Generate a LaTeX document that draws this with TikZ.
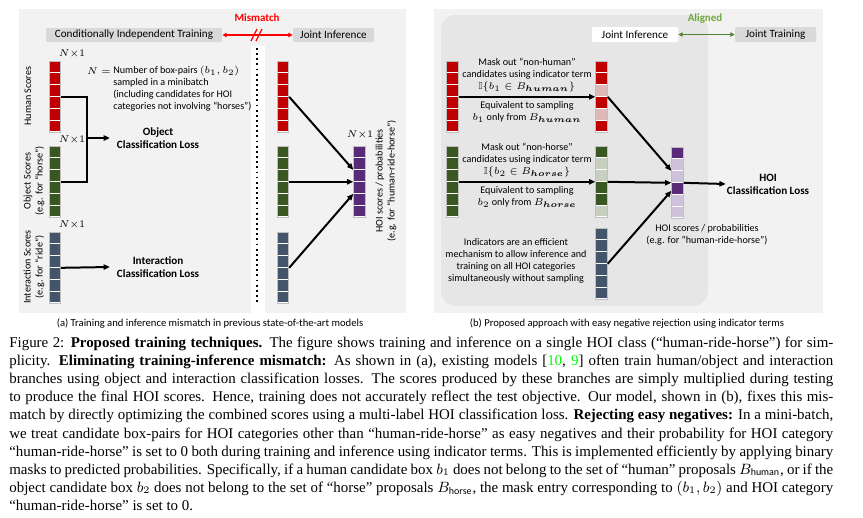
\documentclass[tikz,border=0pt]{standalone}
\usepackage{amsmath,amssymb}
\usepackage{fontspec}
\setmainfont{Carlito}
\newfontfamily\capfont{Liberation Serif}
\usetikzlibrary{arrows.meta,calc}
\newdimen\pxu \pxu=0.6024pt
\definecolor{cR}{HTML}{C00000}
\definecolor{cRl}{HTML}{DDB9BA}
\definecolor{cG}{HTML}{385723}
\definecolor{cGl}{HTML}{C6CFC0}
\definecolor{cB}{HTML}{44546A}
\definecolor{cP}{HTML}{582A78}
\definecolor{cPl}{HTML}{CDC2DA}
\definecolor{bgL}{HTML}{F2F2F2}
\definecolor{bgIn}{HTML}{E6E6E6}
\definecolor{hdrgray}{HTML}{D9D9D9}
\definecolor{mred}{HTML}{FF0000}
\definecolor{agreen}{HTML}{6EA83A}
\definecolor{aline}{HTML}{548235}
\definecolor{frame}{HTML}{BFBFBF}
\newcommand\scol[4]{%
  \foreach \cc [count=\k from 0] in {#4} {
    \filldraw[fill=\cc, draw=white, line width=0.4pt] ({#2-5.75},{#3+\k*11.8}) rectangle ({#2+5.75},{#3+\k*11.8+11.8});
  }
  \node[colframe, anchor=north] (#1) at (#2,#3) {};
}
\begin{document}
\begin{tikzpicture}[x=0.6024pt,y=-0.6024pt,
  colframe/.style={draw=frame, line width=0.5pt, minimum width=11.5\pxu, minimum height=70.8\pxu, inner sep=0pt},
  small/.style={font=\fontsize{6.1}{7.23}\selectfont, inner sep=0pt, align=center},
  hdr/.style={fill=hdrgray, rounded corners=0.8pt, minimum height=14\pxu, inner sep=0pt, font=\fontsize{6.7}{7.8}\selectfont},
  loss/.style={font=\bfseries\fontsize{6.7}{7.8}\selectfont, align=center, inner sep=0pt},
  subcap/.style={font=\fontsize{6.4}{7.5}\selectfont, inner sep=0pt},
  nx/.style={font=\fontsize{6.2}{7}\selectfont, inner sep=0pt},
  conn/.style={line width=1.2pt, -{Triangle[length=3.8pt,width=3.2pt]}},
  conn0/.style={line width=1.2pt},
  capline/.style={font=\capfont\fontsize{9}{10.9}\selectfont, inner sep=0pt, anchor=base west}]
\useasboundingbox (0,0) rectangle (863,517);
% ---------------- backgrounds
\fill[bgL] (19,9) rectangle (406,313);
\fill[white] (251,46) rectangle (265,313);
\fill[bgL] (434,9) rectangle (823,313);
\fill[bgIn, rounded corners=9pt] (441,15) rectangle (708,306);
% ---------------- panel (a) headers
\node[hdr, minimum width=176\pxu] (h1) at (134,35) {Conditionally Independent Training};
\node[hdr, minimum width=81\pxu] (h2) at (333.5,35) {Joint Inference};
\node[font=\bfseries\fontsize{6.6}{7.8}\selectfont, text=mred, inner sep=0pt] (mm) at (257,18) {Mismatch};
\draw[mred, line width=0.7pt, {Triangle[length=2.6pt,width=2.6pt]}-{Triangle[length=2.6pt,width=2.6pt]}] (h1.east) -- (h2.west);
\draw[mred, line width=0.8pt] (251,41) -- (257,29);
\draw[mred, line width=0.8pt] (256,41) -- (262,29);
\draw[line width=1.1pt, dotted] (257,48) -- (257,303);
% ---------------- panel (a) left
\scol{hA}{54.75}{61}{cR,cR,cR,cR,cR,cR}
\scol{gA}{54.75}{146}{cG,cG,cG,cG,cG,cG}
\scol{bA}{54.75}{232}{cB,cB,cB,cB,cB,cB}
\node[nx] (nx1) at (72,54) {$N{\times}1$};
\node[nx] (nx2) at (72,140) {$N{\times}1$};
\node[nx] (nx3) at (72,225) {$N{\times}1$};
\node[small, rotate=90] (lh) at (28,96) {Human Scores};
\node[small, rotate=90] (lo) at (34,181) {Object Scores\\(e.g. for “horse”)};
\node[small, rotate=90] (li) at (34,267) {Interaction Scores\\(e.g. for “ride”)};
\node[small, anchor=east] (neq) at (111,71) {$N=$};
\node[small, align=left, anchor=west] (ndef) at (113,89) {Number of box-pairs $(b_1,b_2)$\\sampled in a minibatch\\(including candidates for HOI\\categories not involving “horses”)};
\node[loss, inner xsep=4pt] (objloss) at (158,138) {Object\\Classification Loss};
\node[loss, inner xsep=4pt] (intloss) at (158,267) {Interaction\\Classification Loss};
\coordinate (jA) at (87,138);
\draw[conn0] (hA.east) -| (jA) |- (gA.east);
\draw[conn] (jA) -- (objloss.west);
\draw[conn] (bA.east) -- (intloss.west);
% ---------------- panel (a) right
\scol{hA2}{283}{61}{cR,cR,cR,cR,cR,cR}
\scol{gA2}{283}{146}{cG,cG,cG,cG,cG,cG}
\scol{bA2}{283}{232}{cB,cB,cB,cB,cB,cB}
\scol{pA}{359.5}{146}{cP,cP,cP,cP,cP,cP}
\node[nx] (nx4) at (360,135) {$N{\times}1$};
\node[small, rotate=90] (lhoi) at (386,181) {HOI scores / probabilities\\(e.g. for “human-ride-horse”)};
\draw[conn] (hA2.east) -- ($(pA.west)+(0,-12)$);
\draw[conn] (gA2.east) -- (pA.west);
\draw[conn] (bA2.east) -- ($(pA.west)+(0,12)$);
\node[subcap] (capa) at (210,324) {(a) Training and inference mismatch in previous state-of-the-art models};
% ---------------- panel (b)
\node[hdr, fill=white, minimum width=86\pxu, minimum height=15\pxu] (h3) at (635,34.5) {Joint Inference};
\node[hdr, minimum width=81\pxu, minimum height=15\pxu] (h4) at (775.5,34.5) {Joint Training};
\node[font=\bfseries\fontsize{6.6}{7.8}\selectfont, text=agreen, inner sep=0pt] (al) at (705,19) {Aligned};
\draw[aline, line width=0.7pt, {Triangle[length=2.6pt,width=2.6pt]}-{Triangle[length=2.6pt,width=2.6pt]}] (h3.east) -- (h4.west);
\scol{hB}{452.5}{61}{cR,cR,cR,cR,cR,cR}
\scol{gB}{452.5}{146}{cG,cG,cG,cG,cG,cG}
\scol{mh}{601.5}{61}{cR,cR,cRl,cR,cRl,cR}
\scol{mg}{601.5}{146}{cG,cGl,cGl,cG,cG,cGl}
\scol{bB}{601.5}{228}{cB,cB,cB,cB,cB,cB}
\scol{pB}{677.5}{147}{cP,cPl,cPl,cP,cPl,cPl}
\node[small] (t1) at (527,75) {Mask out “non-human”\\candidates using indicator term\\$\mathbb{I}\{b_1\in B_{\boldsymbol{human}}\}$};
\node[small] (t2) at (527,112) {Equivalent to sampling\\$b_1$ only from $B_{\boldsymbol{human}}$};
\node[small] (t3) at (527,160) {Mask out “non-horse”\\candidates using indicator term\\$\mathbb{I}\{b_2\in B_{\boldsymbol{horse}}\}$};
\node[small] (t4) at (527,197) {Equivalent to sampling\\$b_2$ only from $B_{\boldsymbol{horse}}$};
\node[small] (t5) at (516,261) {Indicators are an efficient\\mechanism to allow inference and\\training on all HOI categories\\simultaneously without sampling};
\node[small] (t6) at (707,235) {HOI scores / probabilities\\(e.g. for “human-ride-horse”)};
\node[loss, inner xsep=0.5pt] (hoiloss) at (768,184) {HOI\\Classification Loss};
\draw[conn] (hB.east) -- (mh.west);
\draw[conn] (gB.east) -- (mg.west);
\draw[conn] (mh.east) -- ($(pB.west)+(0,-12)$);
\draw[conn] (mg.east) -- (pB.west);
\draw[conn] (bB.east) -- ($(pB.west)+(0,8)$);
\draw[conn] (pB.east) -- (hoiloss.west);
\node[subcap] (capb) at (627,324) {(b) Proposed approach with easy negative rejection using indicator terms};
% ---------------- caption
\node[capline] (c1) at (9,347.5) {\makebox[824\pxu][s]{Figure 2: \textbf{Proposed training techniques.} The figure shows training and inference on a single HOI class (“human-ride-horse”) for sim-}};
\node[capline] (c2) at (9,365.6) {\makebox[824\pxu][s]{plicity. \textbf{Eliminating training-inference mismatch:} As shown in (a), existing models [\textcolor{green}{10}, \textcolor{green}{9}] often train human/object and interaction}};
\node[capline] (c3) at (9,383.7) {\makebox[824\pxu][s]{branches using object and interaction classification losses. The scores produced by these branches are simply multiplied during testing}};
\node[capline] (c4) at (9,401.8) {\makebox[824\pxu][s]{to produce the final HOI scores. Hence, training does not accurately reflect the test objective. Our model, shown in (b), fixes this mis-}};
\node[capline] (c5) at (9,419.9) {\makebox[824\pxu][s]{match by directly optimizing the combined scores using a multi-label HOI classification loss. \textbf{Rejecting easy negatives:} In a mini-batch,}};
\node[capline] (c6) at (9,438) {\makebox[824\pxu][s]{we treat candidate box-pairs for HOI categories other than “human-ride-horse” as easy negatives and their probability for HOI category}};
\node[capline] (c7) at (9,456.1) {\makebox[824\pxu][s]{“human-ride-horse” is set to 0 both during training and inference using indicator terms. This is implemented efficiently by applying binary}};
\node[capline] (c8) at (9,474.2) {\makebox[824\pxu][s]{masks to predicted probabilities. Specifically, if a human candidate box $b_1$ does not belong to the set of “human” proposals $B_{\mathrm{human}}$, or if the}};
\node[capline] (c9) at (9,492.3) {\makebox[824\pxu][s]{object candidate box $b_2$ does not belong to the set of “horse” proposals $B_{\mathrm{horse}}$, the mask entry corresponding to $(b_1,b_2)$ and HOI category}};
\node[capline] (c10) at (9,510.4) {“human-ride-horse” is set to 0.};
\end{tikzpicture}
\end{document}
